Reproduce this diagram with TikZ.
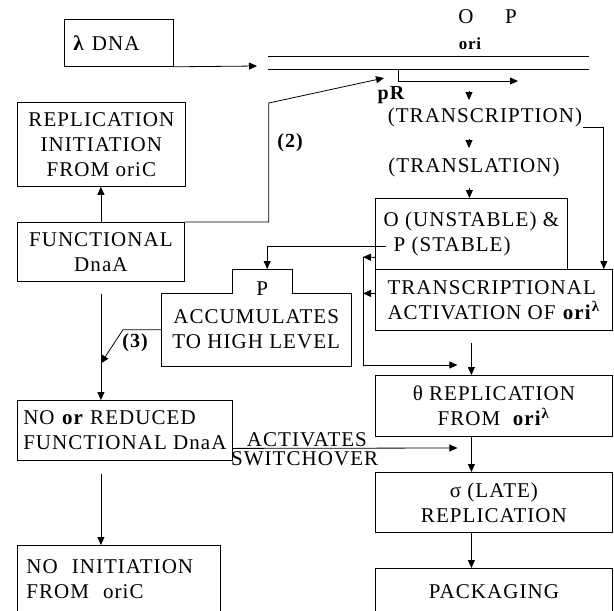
\documentclass[tikz,border=0pt]{standalone}
\usepackage{fontspec}
\setmainfont{Liberation Serif}[LetterSpace=5]
\usetikzlibrary{arrows.meta,calc}

\begin{document}
\begin{tikzpicture}[x=1pt, y=-1pt,
        every node/.style={font=\fontsize{21}{25}\selectfont, inner sep=1pt},
        box/.style={draw, line width=0.8pt, anchor=north west, inner sep=0pt},
        arr/.style={-{Triangle[length=8pt,width=7pt]}, line width=0.8pt},
        tag/.style={font=\fontsize{20}{25}\selectfont\bfseries}]
        \useasboundingbox (0,0) rectangle (614,611);
        \clip (0,0) rectangle (614,611);

        % Define nodes
        \node (lambda_dna) [box, minimum width=109pt, minimum height=47pt, text width=91pt, align=left] at (64,19) {\textbf{λ} DNA};
        \node (replication) [box, minimum width=168pt, minimum height=84pt, align=center] at (17,102) {REPLICATION\\INITIATION\\FROM oriC};
        \node (functional) [box, minimum width=167pt, minimum height=59pt, align=center] at (17,222) {FUNCTIONAL\\DnaA};
        \node (no_reduced) [box, minimum width=215pt, minimum height=60pt, align=left] at (17,400) {NO \textbf{or} REDUCED\\FUNCTIONAL DnaA};
        \node (no_initiation) [box, minimum width=203pt, minimum height=68pt, text width=185pt, align=left] at (17,545) {NO~ INITIATION\\FROM~ oriC};
        \node (accumulates) [anchor=north west, minimum width=190pt, minimum height=73pt, inner sep=0pt, align=center] at (161,293) {ACCUMULATES\\TO HIGH LEVEL};
        \node (p_tab) [anchor=north west, minimum width=60pt, minimum height=38pt, inner sep=0pt] at (232,269) {P};
        \node (o_p) [box, minimum width=192pt, minimum height=71pt, align=left] at (375,198) {O (UNSTABLE) \&\\\hspace{10pt}P (STABLE)};
        \node (activation) [box, minimum width=237pt, minimum height=61pt, align=left] at (375,269) {TRANSCRIPTIONAL\\ACTIVATION OF \textbf{ori}\textsuperscript{\textbf{λ}}};
        \node (theta) [box, minimum width=237pt, minimum height=61pt, align=center] at (375,375) {θ REPLICATION\\FROM~ \textbf{ori}\textsuperscript{\textbf{λ}}};
        \node (sigma) [box, minimum width=237pt, minimum height=60pt, align=center] at (375,472) {σ (LATE)\\REPLICATION};
        \node (packaging) [box, minimum width=237pt, minimum height=46pt] at (375,568) {PACKAGING};

        \node (o_gene) at (466,17) {O};
        \node (p_gene) at (511,17) {P};
        \node (ori) [font=\fontsize{17}{20}\selectfont\bfseries] at (470,44) {ori};
        \node (pr) [tag] at (391,95) {pR};
        \node (transcription) at (485,117) {(TRANSCRIPTION)};
        \node (translation) at (474,167) {(TRANSLATION)};
        \node (label_two) [tag] at (290,143) {(2)};
        \node (label_three) [tag] at (135,343) {(3)};

        % DNA strands and promoter
        \coordinate (strand_left) at (268,56);
        \coordinate (strand_right) at (589,56);
        \coordinate (dna_in) at (257,66);
        \coordinate (pr_start) at (398,69);
        \coordinate (pr_end) at (518,81);
        \coordinate (pr_target) at (384,78);
        \coordinate (merge) at (363,257);
        \draw[line width=0.8pt] (strand_left) -- (strand_right) ([yshift=-13pt]strand_left) -- ([yshift=-13pt]strand_right);

        % P box outline
        \draw[line width=0.8pt] (accumulates.north west) -- (p_tab.west |- accumulates.north) -- (p_tab.north west) -- (p_tab.north east) -- (p_tab.east |- accumulates.north) -- (accumulates.north east) |- (accumulates.south west) -- cycle;

        % Draw arrows
        \draw[arr] (lambda_dna.south east) -- (dna_in);
        \draw[arr] (pr_start) |- (pr_end);
        \draw[arr] (functional.north east) -- ++(84,0) -- ++(0,-119) -- (pr_target);
        \draw[arr] (functional.north) -- (functional.north |- replication.south);
        \draw[arr] ($(functional.south)+(0,12)$) -- (functional.south |- no_reduced.north);
        \draw[arr] ($(no_reduced.south -| functional.south)+(0,13)$) -- (functional.south |- no_initiation.north);
        \draw[arr] (accumulates.west) -- ++(-38,0) -- ($(functional.south |- accumulates.south)+(0,-3)$);
        \draw[arr] ([shift={(11,12)}]o_p.west) -| ([shift={(5,0)}]p_tab.north);
        \draw[arr] (transcription.south east) -| ([shift={(-9,0)}]activation.north east);
        \draw[arr] ([shift={(-16,-26)}]transcription.center) -- ([shift={(-16,-17)}]transcription.center);
        \draw[arr] ([shift={(-5,-28)}]translation.center) -- ([shift={(-5,-19)}]translation.center);
        \draw[arr] ([shift={(-2,-10)}]o_p.north) -- ([shift={(-2,0)}]o_p.north);
        \draw[arr] ([shift={(0,23.5)}]o_p.west) -- (merge);
        \draw[arr] ($(merge |- activation.west)+(12,-6.5)$) -- ($(merge |- activation.west)+(0,-6.5)$);
        \draw[arr] (merge) |- ([shift={(-36.5,-10)}]theta.north);
        \draw[arr] ([shift={(-22.5,12)}]activation.south) -- ([shift={(-22.5,0)}]theta.north);
        \draw[arr] ([shift={(-22.5,0)}]theta.south) -- ([shift={(-22.5,0)}]sigma.north);
        \draw[arr] ([shift={(-22.5,0)}]sigma.south) -- ([shift={(-22.5,0)}]packaging.north);
        \draw[arr] ([shift={(0,18)}]no_reduced.east) -- ([shift={(-36.5,-24)}]sigma.north) node[pos=0.33, above, inner sep=1pt] {ACTIVATES} node[pos=0.32, below, inner sep=3pt] {SWITCHOVER};
\end{tikzpicture}
\end{document}
